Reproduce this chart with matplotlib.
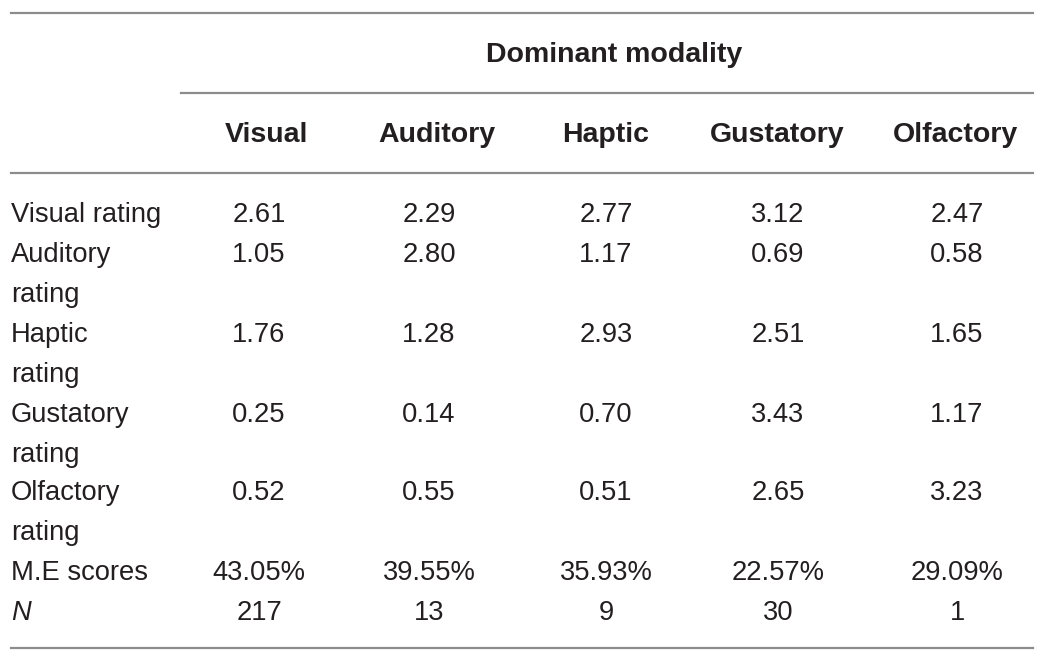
import matplotlib
matplotlib.use("Agg")
import matplotlib.pyplot as plt

title = "Dominant modality"
columns = ["Visual", "Auditory", "Haptic", "Gustatory", "Olfactory"]
row_labels = [["Visual rating"], ["Auditory", "rating"], ["Haptic", "rating"],
              ["Gustatory", "rating"], ["Olfactory", "rating"], ["M.E scores"], ["N"]]
visual_rating = ["2.61", "2.29", "2.77", "3.12", "2.47"]
auditory_rating = ["1.05", "2.80", "1.17", "0.69", "0.58"]
haptic_rating = ["1.76", "1.28", "2.93", "2.51", "1.65"]
gustatory_rating = ["0.25", "0.14", "0.70", "3.43", "1.17"]
olfactory_rating = ["0.52", "0.55", "0.51", "2.65", "3.23"]
me_scores = ["43.05%", "39.55%", "35.93%", "22.57%", "29.09%"]
n_values = ["217", "13", "9", "30", "1"]
rows = [visual_rating, auditory_rating, haptic_rating, gustatory_rating,
        olfactory_rating, me_scores, n_values]

W, H = 1045, 661
fig = plt.figure(figsize=(W / 100, H / 100), dpi=100)
ax = fig.add_axes([0, 0, 1, 1])
ax.set_xlim(0, W)
ax.set_ylim(H, 0)
ax.axis("off")

FONT = "Liberation Sans"
FS = 19.7
FSB = 20.5
TXT = "#231f20"
LINE = "#8c8c8c"
DY = 2.5

# rules
ax.plot([11, 1033], [13, 13], color=LINE, lw=1.6)
ax.plot([181, 1033], [93, 93], color=LINE, lw=1.6)
ax.plot([11, 1033], [173, 173], color=LINE, lw=1.6)
ax.plot([11, 1033], [648, 648], color=LINE, lw=1.6)

ax.text(614, 53 + DY, title, ha="center", va="center", fontsize=FSB, fontweight="bold",
        family=FONT, color=TXT)

col_x = [266, 437, 606, 777, 955]
for x, c in zip(col_x, columns):
    ax.text(x, 133 + DY, c, ha="center", va="center", fontsize=FSB, fontweight="bold",
            family=FONT, color=TXT)

data_x = [259, 429, 606, 778, 957]
row_y = [213, 253, 333, 412, 491, 571, 610]
pitch = 40
for i, (labels, vals, y) in enumerate(zip(row_labels, rows, row_y)):
    for k, lab in enumerate(labels):
        style = "italic" if lab == "N" else "normal"
        ax.text(11, y + k * pitch + DY, lab, ha="left", va="center", fontsize=FS,
                family=FONT, color=TXT, fontstyle=style)
    for x, v in zip(data_x, vals):
        ax.text(x, y + DY, v, ha="center", va="center", fontsize=FS, family=FONT, color=TXT)

fig.savefig("out.png", dpi=100, facecolor="white")
